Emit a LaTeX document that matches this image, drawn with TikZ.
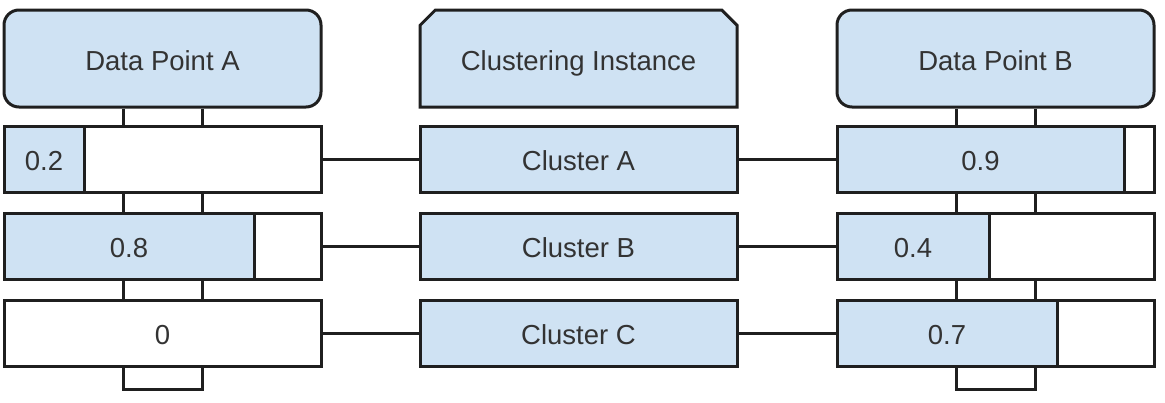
\documentclass[tikz,border=0pt]{standalone}
\usepackage{fontspec}
\setmainfont{Liberation Sans}
\usetikzlibrary{positioning,shapes.misc}
\definecolor{boxblue}{HTML}{CFE2F3}
\definecolor{edgegray}{HTML}{1F1F1F}
\definecolor{textgray}{HTML}{333333}
\tikzset{
  every node/.style={font=\fontsize{27.5}{32}\selectfont, text=textgray, text height=23.7pt, text depth=0pt},
  head/.style={draw=edgegray, line width=3pt, fill=boxblue, minimum width=317pt, minimum height=97pt, inner sep=0pt},
  datahead/.style={head, rounded corners=15pt},
  insthead/.style={head, chamfered rectangle, chamfered rectangle corners={north west,north east}, chamfered rectangle xsep=17pt},
  cluster/.style={head, minimum height=66pt},
  bar/.style={draw=edgegray, line width=3pt, fill=white, minimum width=317pt, minimum height=66pt, inner sep=0pt},
  share/.style={bar, fill=boxblue, anchor=west},
  link/.style={draw=edgegray, line width=3pt}
}
\begin{document}
\begin{tikzpicture}[x=1pt, y=-1pt]
\useasboundingbox (0,0) rectangle (1165,402);

% headers
\node[datahead] (dpA) at (162.5,58.5) {Data Point A};
\node[insthead] (inst) at (578.5,58.5) {Clustering Instance};
\node[datahead] (dpB) at (995.5,58.5) {Data Point B};

% clusters
\foreach \r/\c/\y in {1/A/159, 2/B/246, 3/C/333}
  {\node[cluster] (cl\r) at (578.5,\y) {Cluster \c};}

% membership bars, data point A
\node[bar] (barA1) at (162.5,159) {};
\node[bar] (barA2) at (162.5,246) {};
\node[bar] (barA3) at (162.5,333) {0};
\node[share, minimum width=80pt] (shA1) at (barA1.west) {0.2};
\node[share, minimum width=250pt] (shA2) at (barA2.west) {0.8};

% membership bars, data point B
\node[bar] (barB1) at (995.5,159) {};
\node[bar] (barB2) at (995.5,246) {};
\node[bar] (barB3) at (995.5,333) {};
\node[share, minimum width=287pt] (shB1) at (barB1.west) {0.9};
\node[share, minimum width=152pt] (shB2) at (barB2.west) {0.4};
\node[share, minimum width=220pt] (shB3) at (barB3.west) {0.7};

% links to clusters
\foreach \r in {1,2,3} {
  \draw[link] (barA\r.east) -- (cl\r.west);
  \draw[link] (cl\r.east) -- (barB\r.west);
}

% stacking rails
\foreach \s in {-39.5pt,39.5pt} {
  \draw[link] ([xshift=\s]dpA.south) -- ([xshift=\s]barA1.north);
  \draw[link] ([xshift=\s]barA1.south) -- ([xshift=\s]barA2.north);
  \draw[link] ([xshift=\s]barA2.south) -- ([xshift=\s]barA3.north);
  \draw[link] ([xshift=\s]dpB.south) -- ([xshift=\s]barB1.north);
  \draw[link] ([xshift=\s]barB1.south) -- ([xshift=\s]barB2.north);
  \draw[link] ([xshift=\s]barB2.south) -- ([xshift=\s]barB3.north);
}
\draw[link] ([xshift=-39.5pt]barA3.south) -- ++(0,22) -| ([xshift=39.5pt]barA3.south);
\draw[link] ([xshift=-39.5pt]barB3.south) -- ++(0,22) -| ([xshift=39.5pt]barB3.south);

\end{tikzpicture}
\end{document}
